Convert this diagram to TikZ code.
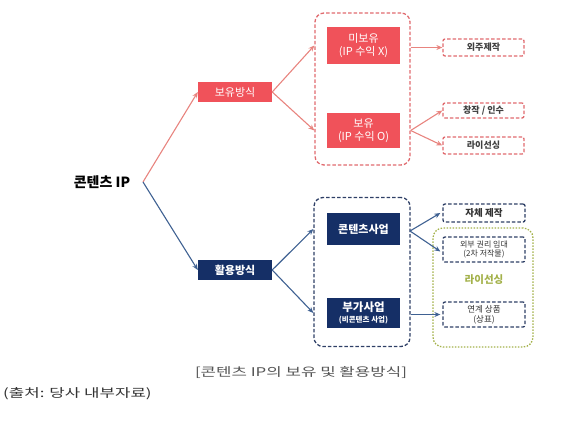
\documentclass[tikz,border=0pt]{standalone}
\usepackage{fontspec}
\setmainfont{Noto Sans CJK KR}
\newfontfamily\capfont[FakeStretch=1.4]{Noto Sans CJK KR}
\usetikzlibrary{arrows.meta}
\definecolor{redfill}{HTML}{F0525A}
\definecolor{redline}{HTML}{E8847F}
\definecolor{reddash}{HTML}{E06A6E}
\definecolor{navyfill}{HTML}{152F66}
\definecolor{blueline}{HTML}{3F6192}
\definecolor{bluedash}{HTML}{2E3F66}
\definecolor{olive}{HTML}{A3B14A}
\definecolor{captiongray}{HTML}{555555}
\tikzset{
  solidred/.style={fill=redfill, text=white, minimum width=74pt, font=\fontsize{11}{12.5}\selectfont, inner sep=0pt, align=center},
  solidnavy/.style={fill=navyfill, text=white, minimum width=74pt, font=\fontsize{11}{12.5}\selectfont\bfseries, inner sep=0pt, align=center},
  redgroup/.style={draw=reddash, line width=1.3pt, dash pattern=on 3.5pt off 2pt, rounded corners=9pt, fill=none},
  bluegroup/.style={draw=bluedash, line width=1.3pt, dash pattern=on 3.5pt off 2pt, rounded corners=9pt, fill=none},
  reddbox/.style={draw=reddash, line width=1.3pt, dash pattern=on 3.5pt off 2pt, rounded corners=2pt, minimum width=81pt, inner sep=0pt, align=center, font=\fontsize{9}{10}\selectfont\bfseries, text=black!75},
  bluedbox/.style={draw=bluedash, line width=1.3pt, dash pattern=on 3.5pt off 2pt, rounded corners=2pt, minimum width=82pt, inner sep=0pt, align=center, font=\fontsize{8}{9.5}\selectfont, text=black!80},
  redarrow/.style={draw=redline, line width=1.1pt, -{Stealth[length=6pt,width=5pt]}},
  bluearrow/.style={draw=blueline, line width=1.1pt, -{Stealth[length=6pt,width=5pt]}},
}
\begin{document}
\begin{tikzpicture}[x=1pt,y=-1pt]
\useasboundingbox (0,0) rectangle (580,437);
% root
\node[font=\fontsize{14}{15}\selectfont\bfseries, inner sep=0pt] (root) at (102,182) {콘텐츠 IP};
\coordinate (fan) at (143,182);
% level 1
\node[solidred, minimum height=20pt] (own) at (235,92) {보유방식};
\node[solidnavy, minimum height=20pt] (use) at (235,270) {활용방식};
% red group
\node[redgroup, minimum width=95pt, minimum height=152pt] (rg) at (362.5,89) {};
\node[solidred, minimum height=37pt, minimum width=73pt] (notown) at (363.5,45.5) {미보유\\(IP 수익 X)};
\node[solidred, minimum height=35pt, minimum width=73pt] (yesown) at (363.5,130.5) {보유\\(IP 수익 O)};
\node[reddbox, minimum height=17pt] (outs) at (483.5,47.5) {외주제작};
\node[reddbox, minimum height=15pt] (crea) at (483.5,110.5) {창작 / 인수};
\node[reddbox, minimum height=17pt] (lic1) at (483.5,145.5) {라이선싱};
% blue group
\node[bluegroup, minimum width=96pt, minimum height=149pt] (bg) at (362,272) {};
\node[solidnavy, minimum height=32pt, minimum width=73pt] (cont) at (363.5,229) {콘텐츠사업};
\node[solidnavy, minimum height=30pt, minimum width=73pt, font=\fontsize{11.5}{12}\selectfont\bfseries] (sub) at (363.5,313) {부가사업\\[-1pt]{\fontsize{7.5}{8}\selectfont (비콘텐츠 사업)}};
\node[draw=olive, line width=1.3pt, dash pattern=on 1.5pt off 1.5pt, rounded corners=10pt, minimum width=100pt, minimum height=119pt] (lg) at (483,287.5) {};
\node[bluedbox, minimum height=18pt, font=\fontsize{9.5}{10}\selectfont\bfseries] (self) at (484,213) {자체 제작};
\node[bluedbox, minimum height=25pt] (ext) at (484,249.5) {외부 권리 임대\\(2차 저작물)};
\node[text=olive, font=\fontsize{10.5}{11}\selectfont\bfseries] (lic2) at (484,280) {라이선싱};
\node[bluedbox, minimum height=25pt, font=\fontsize{8.5}{10}\selectfont] (link) at (484,314.5) {연계 상품\\(상표)};
% arrows
\draw[redarrow] (fan) -- (own.west);
\draw[bluearrow] (fan) -- (use.west);
\draw[redarrow] (own.east) -- (rg.west |- notown);
\draw[redarrow] (own.east) -- (rg.west |- yesown);
\draw[bluearrow] (use.east) -- (bg.west |- cont);
\draw[bluearrow] (use.east) -- (bg.west |- sub);
\draw[redarrow] (rg.east |- outs) -- (outs.west);
\coordinate (yo) at (rg.east |- yesown);
\draw[redarrow] (yo) -- (crea.west);
\draw[redarrow] (yo) -- (lic1.west);
\coordinate (co) at (410,231);
\draw[bluearrow] (co) -- ([xshift=-2pt]self.west);
\draw[bluearrow] (co) -- ([xshift=-2pt,yshift=-2pt]ext.west);
\draw[bluearrow] (bg.east |- link) -- ([xshift=-2pt]link.west);
% captions
\node[text=captiongray, font=\capfont\fontsize{12}{14}\selectfont, inner sep=0pt] (cap) at (301,373) {[콘텐츠 IP의 보유 및 활용방식]};
\node[text=black!80, font=\capfont\fontsize{12}{14}\selectfont, anchor=west, inner sep=0pt] (src) at (3,394) {(출처: 당사 내부자료)};
\end{tikzpicture}
\end{document}
